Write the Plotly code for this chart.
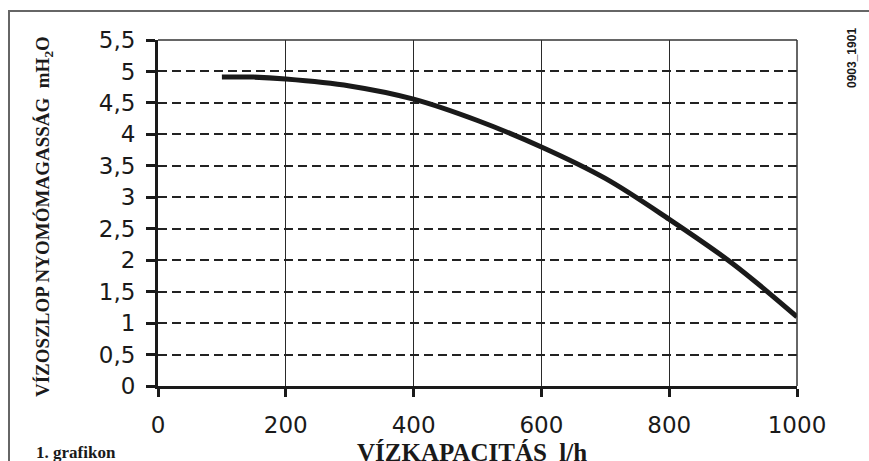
import plotly.graph_objects as go

# Pump curve: water flow (l/h) vs. available head (m H2O)
flow_lh = [100, 150, 200, 300, 400, 500, 600, 700, 800, 900, 1000]
head_m = [4.91, 4.91, 4.88, 4.77, 4.56, 4.22, 3.80, 3.30, 2.65, 1.94, 1.10]

x_ticks = [0, 200, 400, 600, 800, 1000]
y_ticks = [0, 0.5, 1, 1.5, 2, 2.5, 3, 3.5, 4, 4.5, 5, 5.5]

W, H = 869, 461
L, R, T, B = 158, 72, 40, 75
pw, ph = W - L - R, H - T - B


def px(xp):
    return (xp - L) / pw


def py(yp):
    return (H - B - yp) / ph


ink = "#1a1a1a"

fig = go.Figure()
fig.add_trace(go.Scatter(
    x=flow_lh, y=head_m, mode="lines",
    line=dict(color=ink, width=5, shape="spline", smoothing=1.0),
    hoverinfo="skip", showlegend=False,
))

tick_font = dict(family="DejaVu Sans", size=23, color=ink)

fig.update_xaxes(
    range=[0, 1000], tickvals=x_ticks, ticktext=[str(v) for v in x_ticks],
    showgrid=True, gridcolor="#2a2a2a", gridwidth=1.3,
    showline=True, linecolor=ink, linewidth=3,
    ticks="outside", ticklen=8, tickwidth=3, tickcolor=ink,
    zeroline=False, tickfont=tick_font, ticklabelstandoff=8,
)
fig.update_yaxes(
    range=[0, 5.5], tickvals=y_ticks,
    showgrid=True, gridcolor="#222", gridwidth=2, griddash="9px,5px",
    showline=True, linecolor=ink, linewidth=3,
    ticks="outside", ticklen=9, tickwidth=3, tickcolor=ink,
    zeroline=False, tickfont=tick_font, ticklabelstandoff=6,
)

shapes = [
    # solid top and right borders of the plot area
    dict(type="line", xref="paper", yref="paper", x0=0, x1=1, y0=1, y1=1,
         line=dict(color="#333", width=1.5)),
    dict(type="line", xref="paper", yref="paper", x0=1, x1=1, y0=0, y1=1,
         line=dict(color="#333", width=1.5)),
    # outer page frame
    dict(type="rect", xref="paper", yref="paper",
         x0=px(9), x1=px(W + 40), y0=py(H + 40), y1=py(11),
         line=dict(color="#666", width=2), layer="below"),
]

serif = "Liberation Serif"
annotations = [
    dict(text="<b>VÍZOSZLOP NYOMÓMAGASSÁG  mH<sub>2</sub>O</b>",
         x=px(44), y=py(217), xref="paper", yref="paper",
         textangle=-90, showarrow=False, xanchor="center", yanchor="middle",
         font=dict(family=serif, size=19, color=ink)),
    dict(text="<b>VÍZKAPACITÁS  l/h</b>",
         x=px(472), y=py(452), xref="paper", yref="paper",
         showarrow=False, xanchor="center", yanchor="middle",
         font=dict(family=serif, size=25, color=ink)),
    dict(text="<b>1. grafikon</b>",
         x=px(34), y=py(452), xref="paper", yref="paper",
         showarrow=False, xanchor="left", yanchor="middle",
         font=dict(family=serif, size=17, color=ink)),
    dict(text="<b>0903_1901</b>",
         x=px(852), y=py(58), xref="paper", yref="paper",
         textangle=-90, showarrow=False, xanchor="center", yanchor="middle",
         font=dict(family="Liberation Sans", size=12, color=ink)),
]

fig.update_layout(
    width=W, height=H,
    margin=dict(l=L, r=R, t=T, b=B),
    paper_bgcolor="white", plot_bgcolor="white",
    separators=",.",
    shapes=shapes, annotations=annotations,
    showlegend=False,
)

fig.write_html("out.html")
